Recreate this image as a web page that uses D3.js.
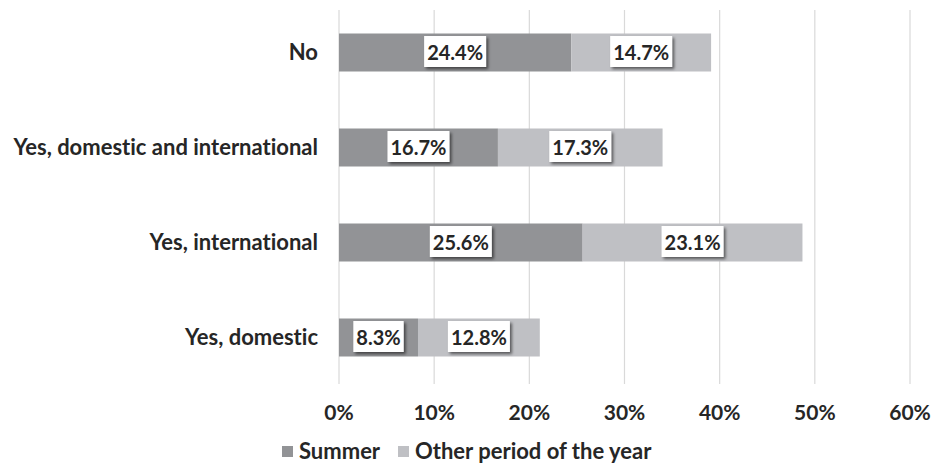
<!DOCTYPE html>
<html>
<head>
<meta charset="utf-8">
<script src="https://cdn.jsdelivr.net/npm/d3@7"></script>
<style>
  html, body { margin: 0; padding: 0; background: #fff; }
  svg { display: block; font-family: Lato, "Open Sans", sans-serif; font-weight: 700; font-variant-ligatures: none; }
</style>
</head>
<body>
<svg id="chart" width="934" height="464"></svg>
<script>
// Share of respondents by travel type and period
const categories = ["No", "Yes, domestic and international", "Yes, international", "Yes, domestic"];
const summer = [24.4, 16.7, 25.6, 8.3];
const otherPeriod = [14.7, 17.3, 23.1, 12.8];
const seriesNames = ["Summer", "Other period of the year"];
const tickValues = [0, 10, 20, 30, 40, 50, 60];
const colors = ["#929396", "#bfc0c4"];

const svg = d3.select("#chart");
const x = d3.scaleLinear().domain([0, 60]).range([339, 910]);
const y = d3.scaleBand().domain(categories).range([5, 385]).paddingInner(0.6).paddingOuter(0.3);

// vertical gridlines
svg.append("g").selectAll("line").data(tickValues).join("line")
  .attr("x1", d => x(d)).attr("x2", d => x(d))
  .attr("y1", 10).attr("y2", 384)
  .attr("stroke", "#d9d9d9").attr("stroke-width", 1.2);

// stacked segments
const segs = [];
categories.forEach((c, i) => {
  let acc = 0;
  [summer[i], otherPeriod[i]].forEach((v, k) => {
    segs.push({ cat: c, k, x0: acc, x1: acc + v, v });
    acc += v;
  });
});

svg.append("g").selectAll("rect").data(segs).join("rect")
  .attr("x", d => x(d.x0))
  .attr("width", d => x(d.x1) - x(d.x0))
  .attr("y", d => y(d.cat))
  .attr("height", y.bandwidth())
  .attr("fill", d => colors[d.k]);

// drop shadow for the label boxes
const f = svg.append("defs").append("filter").attr("id", "sh")
  .attr("x", "-20%").attr("y", "-20%").attr("width", "150%").attr("height", "150%");
f.append("feDropShadow").attr("dx", 2).attr("dy", 2).attr("stdDeviation", 1.5)
  .attr("flood-color", "#000").attr("flood-opacity", 0.55);

// value labels in white boxes
const lab = svg.append("g").selectAll("g").data(segs).join("g")
  .attr("transform", d => `translate(${x((d.x0 + d.x1) / 2)},${y(d.cat) + y.bandwidth() / 2})`);
lab.each(function(d) {
  const g = d3.select(this);
  const rect = g.append("rect").attr("fill", "#fff").attr("filter", "url(#sh)");
  const t = g.append("text").text(d.v.toFixed(1) + "%")
    .attr("text-anchor", "middle").attr("dy", "0.35em")
    .attr("font-size", 20).attr("fill", "#262626");
  const bb = t.node().getBBox();
  const w = bb.width + 6, h = 31;
  rect.attr("x", -w / 2).attr("y", -h / 2 - 1).attr("width", w).attr("height", h);
});

// category labels
svg.append("g").selectAll("text").data(categories).join("text")
  .attr("x", 318).attr("y", d => y(d) + y.bandwidth() / 2)
  .attr("dy", "0.35em").attr("text-anchor", "end")
  .attr("font-size", 22).attr("fill", "#262626").text(d => d);

// x tick labels
svg.append("g").selectAll("text").data(tickValues).join("text")
  .attr("x", d => x(d)).attr("y", 413).attr("dy", "0.35em")
  .attr("text-anchor", "middle").attr("font-size", 21).attr("fill", "#262626")
  .text(d => d + "%");

// legend
const leg = svg.append("g");
const legX = [282, 398];
seriesNames.forEach((n, i) => {
  leg.append("rect").attr("x", legX[i]).attr("y", 446).attr("width", 11).attr("height", 11).attr("fill", colors[i]);
  leg.append("text").attr("x", legX[i] + 17).attr("y", 451).attr("dy", "0.35em")
    .attr("font-size", 22).attr("fill", "#262626").text(n);
});
</script>
</body>
</html>
